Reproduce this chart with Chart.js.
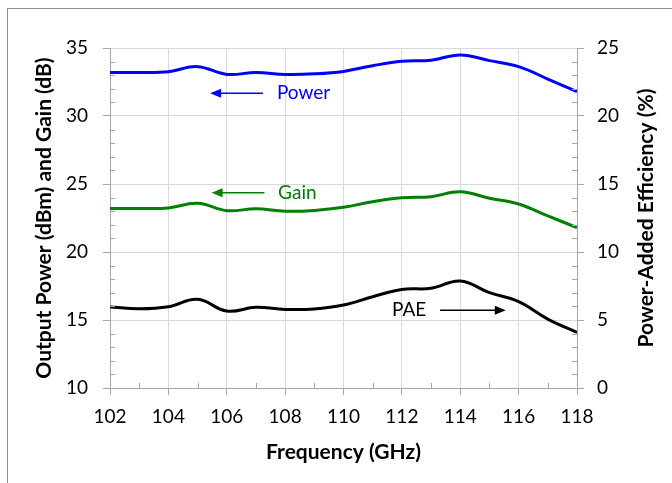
<!DOCTYPE html>
<html>
<head>
<meta charset="utf-8">
<script src="https://cdn.jsdelivr.net/npm/chart.js@4"></script>
<style>
  html, body { margin: 0; padding: 0; background: #fff; }
  #frame { position: absolute; left: 7px; top: 8px; width: 700px; height: 500px; border: 1px solid #8c8c8c; }
  #wrap { position: absolute; left: 0; top: 0; width: 672px; height: 483px; }
</style>
</head>
<body>
<div id="frame"></div>
<div id="wrap"><canvas id="chart"></canvas></div>
<script>
// 频率点 (GHz)
const freq = [102, 103, 104, 105, 106, 107, 108, 109, 110, 111, 112, 113, 114, 115, 116, 117, 118];
// 输出功率 (dBm)
const power = [33.2, 33.2, 33.26, 33.63, 33.06, 33.2, 33.06, 33.1, 33.28, 33.7, 34.02, 34.1, 34.49, 34.07, 33.63, 32.72, 31.8];
// 增益 (dB)
const gain = [23.2, 23.2, 23.24, 23.58, 23.04, 23.18, 23.0, 23.06, 23.29, 23.7, 23.99, 24.07, 24.43, 23.95, 23.53, 22.65, 21.8];
// PAE (%)
const pae = [5.96, 5.83, 5.98, 6.52, 5.66, 5.93, 5.78, 5.81, 6.10, 6.71, 7.25, 7.33, 7.87, 7.01, 6.35, 5.07, 4.09];

// 标注: 文字 + 箭头 (数据坐标, 左轴)
const notes = [
    { text: 'Power', color: '#0000ff', tx: 107.72, ty: 31.67, from: 107.24, to: 105.43 },
    { text: 'Gain', color: '#008000', tx: 107.76, ty: 24.36, from: 107.29, to: 105.48 },
    { text: 'PAE', color: '#000000', tx: 111.66, ty: 15.72, from: 113.31, to: 115.56 },
];

const FONT = 'Lato';

function pts(ys) {
    return freq.map((f, i) => ({ x: f, y: ys[i] }));
}

const extras = {
    id: 'extras',
    afterDraw(chart) {
        const ctx = chart.ctx;
        const xs = chart.scales.x, yl = chart.scales.y, yr = chart.scales.y1;
        const area = chart.chartArea;
        ctx.save();
        // 次刻度 (朝内)
        ctx.strokeStyle = '#a6a6a6';
        ctx.lineWidth = 1;
        ctx.beginPath();
        for (let f = 103; f < 118; f += 2) {
            const px = Math.round(xs.getPixelForValue(f)) + 0.5;
            ctx.moveTo(px, area.bottom);
            ctx.lineTo(px, area.bottom - 5);
        }
        for (let v = 11; v < 35; v++) {
            if (v % 5 === 0) continue;
            const py = Math.round(yl.getPixelForValue(v)) + 0.5;
            ctx.moveTo(area.left, py);
            ctx.lineTo(area.left + 5, py);
        }
        for (let v = 1; v < 25; v++) {
            if (v % 5 === 0) continue;
            const py = Math.round(yr.getPixelForValue(v)) + 0.5;
            ctx.moveTo(area.right, py);
            ctx.lineTo(area.right - 5, py);
        }
        ctx.stroke();

        // 标注
        notes.forEach(n => {
            const y = yl.getPixelForValue(n.ty);
            ctx.fillStyle = n.color;
            ctx.strokeStyle = n.color;
            ctx.font = '19px ' + FONT;
            ctx.textBaseline = 'middle';
            ctx.textAlign = 'left';
            ctx.fillText(n.text, xs.getPixelForValue(n.tx), y);
            const x0 = xs.getPixelForValue(n.from), x1 = xs.getPixelForValue(n.to);
            const dir = x1 > x0 ? 1 : -1;
            ctx.lineWidth = 1.5;
            ctx.beginPath();
            ctx.moveTo(x0, y);
            ctx.lineTo(x1 - dir * 8, y);
            ctx.stroke();
            ctx.beginPath();
            ctx.moveTo(x1, y);
            ctx.lineTo(x1 - dir * 11, y - 4.5);
            ctx.lineTo(x1 - dir * 11, y + 4.5);
            ctx.closePath();
            ctx.fill();
        });

        // 右轴标题 (自下而上)
        ctx.translate(646, (area.top + area.bottom) / 2);
        ctx.rotate(-Math.PI / 2);
        ctx.fillStyle = '#000';
        ctx.font = 'bold 21px ' + FONT;
        ctx.textAlign = 'center';
        ctx.textBaseline = 'middle';
        ctx.fillText('Power-Added Efficiency (%)', 0, 0);
        ctx.restore();
    }
};

const tickFont = { family: FONT, size: 19 };
const titleFont = { family: FONT, size: 21, weight: 'bold' };

new Chart(document.getElementById('chart'), {
    type: 'line',
    data: {
        datasets: [
            { label: 'Power', data: pts(power), borderColor: '#0000ff', borderWidth: 3, yAxisID: 'y' },
            { label: 'Gain', data: pts(gain), borderColor: '#008000', borderWidth: 3, yAxisID: 'y' },
            { label: 'PAE', data: pts(pae), borderColor: '#000000', borderWidth: 3, yAxisID: 'y1' },
        ]
    },
    options: {
        responsive: true,
        maintainAspectRatio: false,
        animation: false,
        layout: { padding: { left: 28, right: 12, top: 48, bottom: 13 } },
        elements: {
            point: { radius: 0 },
            line: { tension: 0.4, fill: false },
        },
        scales: {
            x: {
                type: 'linear',
                min: 102, max: 118,
                ticks: { stepSize: 2, color: '#000', font: tickFont, padding: 10, maxRotation: 0 },
                grid: { color: '#d9d9d9', tickColor: '#a6a6a6', tickLength: 7 },
                border: { color: '#a6a6a6' },
                title: { display: true, text: 'Frequency (GHz)', color: '#000', font: titleFont, padding: { top: 0, bottom: 5 } },
                afterFit(s) { s.height = 82; },
            },
            y: {
                position: 'left',
                min: 10, max: 35,
                ticks: { stepSize: 5, color: '#000', font: tickFont, padding: 15 },
                grid: { color: '#d9d9d9', tickColor: '#a6a6a6', tickLength: 7 },
                border: { color: '#a6a6a6' },
                title: { display: true, text: 'Output Power (dBm) and Gain (dB)', color: '#000', font: titleFont, padding: { top: 4, bottom: 0 } },
                afterFit(s) { s.width = 82; },
            },
            y1: {
                position: 'right',
                min: 0, max: 25,
                ticks: { stepSize: 5, color: '#000', font: tickFont, padding: 13 },
                grid: { drawOnChartArea: false, tickColor: '#a6a6a6', tickLength: 7 },
                border: { color: '#a6a6a6' },
                afterFit(s) { s.width = 83; },
            },
        },
        plugins: {
            legend: { display: false },
            tooltip: { enabled: false },
        }
    },
    plugins: [extras]
});
</script>
</body>
</html>
